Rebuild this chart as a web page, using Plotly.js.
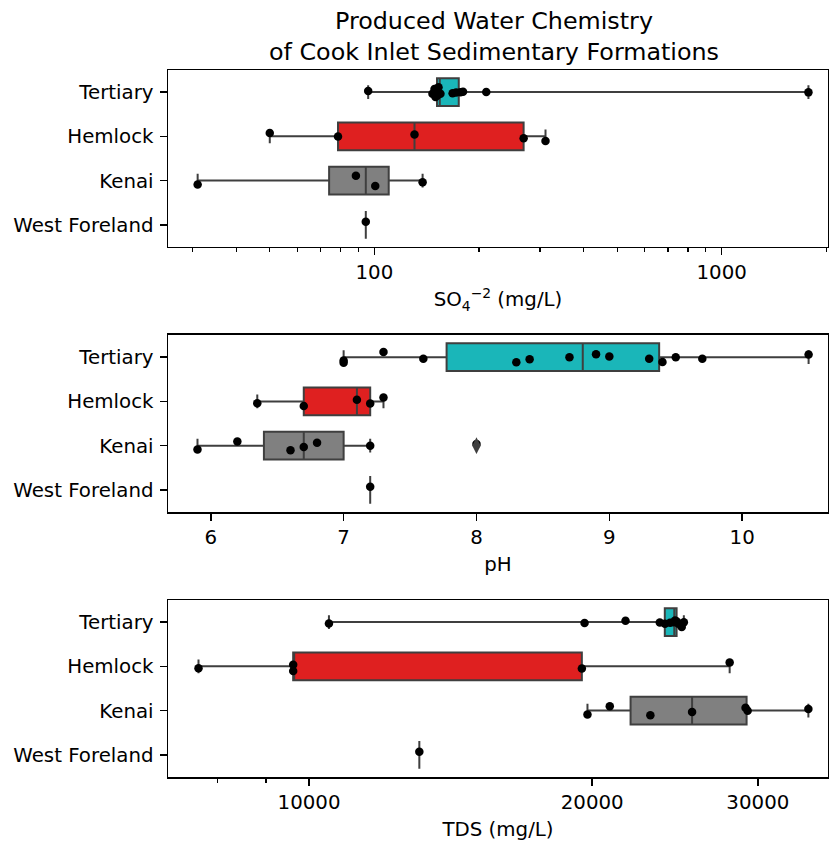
<!DOCTYPE html>
<html>
<head>
<meta charset="utf-8">
<script src="https://cdn.plot.ly/plotly-3.0.1.min.js"></script>
<style>html,body{margin:0;padding:0;background:#fff;}#chart{width:829px;height:841px;}</style>
</head>
<body>
<div id="chart"></div>
<script>
// ---- categories (top to bottom) ----
const categories = ['Tertiary', 'Hemlock', 'Kenai', 'West Foreland'];

// ---- SO4 (mg/L) sample values ----
const so4Tertiary = [96, 147, 149, 150, 152, 153, 155, 168, 172, 177, 180, 210, 1777];
const so4Hemlock = [50, 78.6, 130.5, 269, 311];
const so4Kenai = [31, 88.5, 100.6, 137.7];
const so4WestForeland = [94.5];
// box statistics (order = categories)
const so4Q1 = [151.5, 78.6, 74.1, 94.5];
const so4Median = [154.3, 130.5, 94.5, 94.5];
const so4Q3 = [175, 269, 110, 94.5];
const so4Lower = [96, 50, 31, 94.5];
const so4Upper = [1777, 311, 137.7, 94.5];

// ---- pH sample values ----
const phTertiary = [7.0, 7.0, 7.3, 7.6, 8.3, 8.4, 8.7, 8.9, 9.0, 9.3, 9.4, 9.5, 9.7, 10.5];
const phHemlock = [6.35, 6.7, 7.1, 7.2, 7.3];
const phKenai = [5.9, 6.2, 6.6, 6.7, 6.8, 7.2, 8.0];
const phWestForeland = [7.2];
const phQ1 = [7.775, 6.7, 6.4, 7.2];
const phMedian = [8.8, 7.1, 6.7, 7.2];
const phQ3 = [9.375, 7.2, 7.0, 7.2];
const phLower = [7.0, 6.35, 5.9, 7.2];
const phUpper = [10.5, 7.3, 7.2, 7.2];

// ---- TDS (mg/L) sample values ----
const tdsTertiary = [10500, 19630, 21700, 23600, 23900, 24200, 24400, 24500, 24600, 24700, 24900, 25030];
const tdsHemlock = [7630, 9620, 9620, 19500, 28000];
const tdsKenai = [19770, 20880, 23060, 25540, 29110, 29260, 33950];
const tdsWestForeland = [13100];
const tdsQ1 = [23890, 9620, 21970, 13100];
const tdsMedian = [24450, 9620, 25540, 13100];
const tdsQ3 = [24590, 19500, 29185, 13100];
const tdsLower = [10500, 7630, 19770, 13100];
const tdsUpper = [25030, 28000, 33950, 13100];

// ---- tick labels ----
const so4TickVals = [100, 1000];
const so4TickText = ['100', '1000'];
const so4MinorVals = [30, 40, 50, 60, 70, 80, 90, 200, 300, 400, 500, 600, 700, 800, 900, 2000];
const phTickVals = [6, 7, 8, 9, 10];
const phTickText = ['6', '7', '8', '9', '10'];
const tdsTickVals = [10000, 20000, 30000];
const tdsTickText = ['10000', '20000', '30000'];
const tdsMinorVals = [8000, 9000];

// ---- styles ----
const boxFill = ['#1ab6b9', '#df2020', '#808080', '#808080'];
const edge = '#3f3f3f';
const FONT = 'DejaVu Sans, Verdana, sans-serif';
const BOXW = 0.625;

function panel(samples, q1, med, q3, lo, hi, xa, ya) {
  const traces = [];
  categories.forEach((c, i) => {
    traces.push({
      type: 'box', orientation: 'h', y: [c],
      q1: [q1[i]], median: [med[i]], q3: [q3[i]],
      lowerfence: [lo[i]], upperfence: [hi[i]],
      fillcolor: boxFill[i], line: {color: edge, width: 2},
      whiskerwidth: 0.5, width: BOXW, boxpoints: false,
      xaxis: xa, yaxis: ya, showlegend: false, hoverinfo: 'skip'
    });
  });
  // outliers (values outside whiskers)
  const ox = [], oy = [];
  samples.forEach((arr, i) => arr.forEach(v => {
    if (v < lo[i] || v > hi[i]) { ox.push(v); oy.push(categories[i]); }
  }));
  if (ox.length) {
    traces.push({
      type: 'scatter', mode: 'markers', x: ox, y: oy,
      marker: {symbol: 'diamond-tall', size: 12, color: edge},
      xaxis: xa, yaxis: ya, showlegend: false, hoverinfo: 'skip'
    });
  }
  // strip points
  const px = [], py = [];
  samples.forEach((arr, i) => arr.forEach(v => { px.push(v); py.push(categories[i]); }));
  traces.push({
    type: 'box', orientation: 'h', x: px, y: py,
    boxpoints: 'all', jitter: 0.45, pointpos: 0,
    fillcolor: 'rgba(0,0,0,0)', line: {color: 'rgba(0,0,0,0)', width: 0},
    whiskerwidth: 0, width: BOXW,
    marker: {color: 'black', size: 8.5},
    xaxis: xa, yaxis: ya, showlegend: false, hoverinfo: 'skip'
  });
  return traces;
}

const data = [].concat(
  panel([so4Tertiary, so4Hemlock, so4Kenai, so4WestForeland], so4Q1, so4Median, so4Q3, so4Lower, so4Upper, 'x', 'y'),
  panel([phTertiary, phHemlock, phKenai, phWestForeland], phQ1, phMedian, phQ3, phLower, phUpper, 'x2', 'y2'),
  panel([tdsTertiary, tdsHemlock, tdsKenai, tdsWestForeland], tdsQ1, tdsMedian, tdsQ3, tdsLower, tdsUpper, 'x3', 'y3')
);

const tickFont = {family: FONT, size: 19.8, color: 'black'};
function xAxis(anchor, type, range, tv, tt, minor, title) {
  const a = {
    anchor: anchor, type: type, range: range,
    tickmode: 'array', tickvals: tv, ticktext: tt,
    ticks: 'outside', ticklen: 7, tickwidth: 1.5, tickcolor: 'black',
    showline: true, mirror: true, linecolor: 'black', linewidth: 1.5,
    showgrid: false, zeroline: false, tickfont: tickFont,
    title: {text: title, font: {family: FONT, size: 19.8, color: 'black'}, standoff: 9},
    automargin: false, fixedrange: true
  };
  if (minor) a.minor = {tickmode: 'array', tickvals: minor, ticks: 'outside', ticklen: 4, tickwidth: 1.2, tickcolor: 'black', showgrid: false};
  return a;
}
function yAxis(anchor, domain) {
  return {
    anchor: anchor, domain: domain, type: 'category',
    categoryorder: 'array', categoryarray: categories.slice().reverse(),
    range: [-0.5, 3.5],
    ticks: 'outside', ticklen: 7, tickwidth: 1.5, tickcolor: 'black',
    ticklabelstandoff: 2,
    showline: true, mirror: true, linecolor: 'black', linewidth: 1.5,
    showgrid: false, zeroline: false, tickfont: tickFont,
    automargin: false, fixedrange: true
  };
}

const layout = {
  width: 829, height: 841,
  margin: {l: 168, r: 1, t: 70, b: 64},
  paper_bgcolor: 'white', plot_bgcolor: 'white',
  showlegend: false, boxmode: 'overlay',
  title: {
    text: 'Produced Water Chemistry<br>of Cook Inlet Sedimentary Formations',
    font: {family: FONT, size: 23.8, color: 'black'},
    xref: 'container', x: 494 / 829, xanchor: 'center',
    yref: 'container', y: 1 - 29 / 841, yanchor: 'top'
  },
  xaxis: xAxis('y', 'log', [1.406, 3.306], so4TickVals, so4TickText, so4MinorVals, 'SO<sub>4</sub><sup>\u22122</sup> (mg/L)'),
  yaxis: yAxis('x', [0.74965, 1]),
  xaxis2: xAxis('y2', 'linear', [5.678, 10.646], phTickVals, phTickText, null, 'pH'),
  yaxis2: yAxis('x2', [0.37482, 0.62518]),
  xaxis3: xAxis('y3', 'log', [3.8501, 4.5517], tdsTickVals, tdsTickText, tdsMinorVals, 'TDS (mg/L)'),
  yaxis3: yAxis('x3', [0, 0.25035])
};

Plotly.newPlot('chart', data, layout, {staticPlot: true, displayModeBar: false});
</script>
</body>
</html>
